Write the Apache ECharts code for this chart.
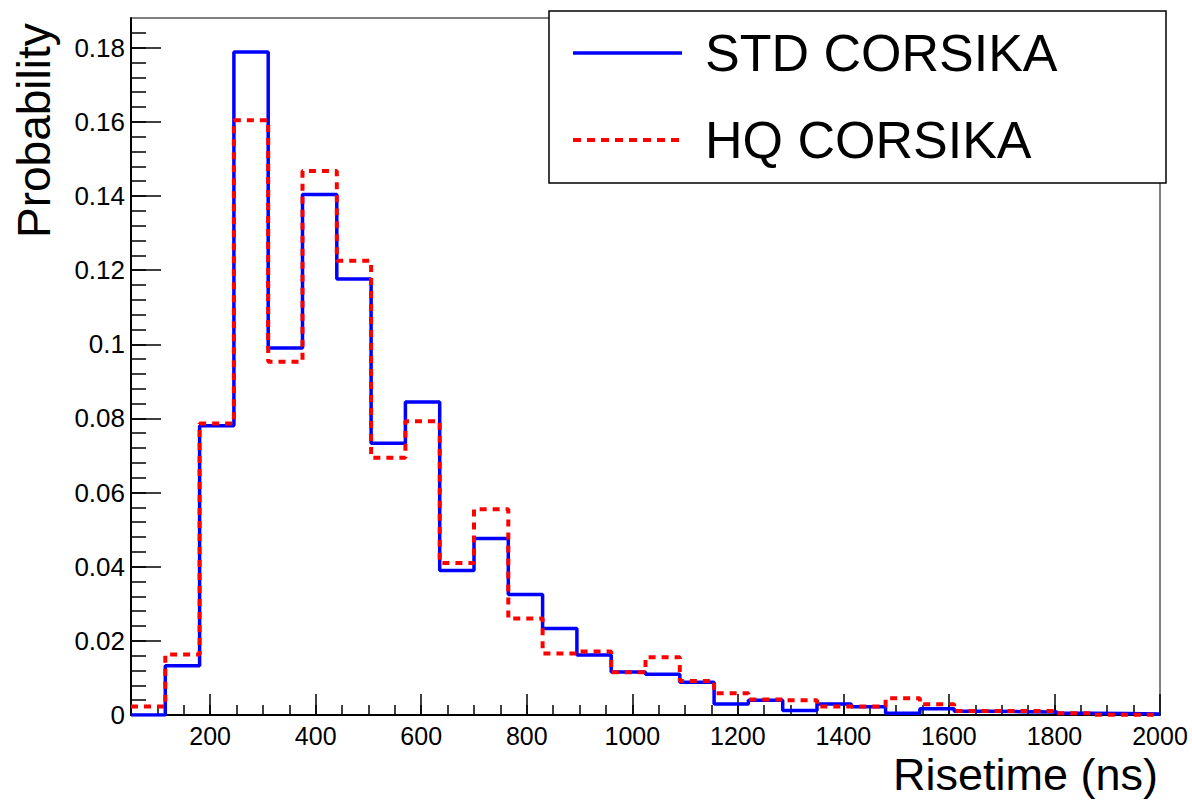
<!DOCTYPE html>
<html>
<head>
<meta charset="utf-8">
<title>Risetime distribution</title>
<script src="https://cdn.jsdelivr.net/npm/echarts@6/dist/echarts.min.js"></script>
<style>
  html, body { margin: 0; padding: 0; background: #fff; }
  #chart { width: 1192px; height: 800px; }
</style>
</head>
<body>
<div id="chart"></div>
<script>
// Bin edges of the risetime histogram (ns), 30 bins of 65 ns
const binEdges = [50, 115, 180, 245, 310, 375, 440, 505, 570, 635, 700, 765, 830, 895, 960,
  1025, 1090, 1155, 1220, 1285, 1350, 1415, 1480, 1545, 1610, 1675, 1740, 1805, 1870, 1935, 2000];

// Normalised bin contents
const stdCorsika = [0, 0.0133, 0.078, 0.1788, 0.099, 0.1404, 0.1176, 0.0733, 0.0844, 0.039,
  0.0476, 0.0325, 0.0233, 0.0162, 0.0116, 0.011, 0.0088, 0.003, 0.004, 0.0012,
  0.003, 0.0022, 0.0005, 0.0017, 0.001, 0.0009, 0.0008, 0.0005, 0.0004, 0.0003];
const hqCorsika = [0.0023, 0.0163, 0.0786, 0.1604, 0.0953, 0.1467, 0.1225, 0.0694, 0.0792, 0.041,
  0.0555, 0.026, 0.0166, 0.0171, 0.0115, 0.0156, 0.0092, 0.0059, 0.0042, 0.004,
  0.0023, 0.0023, 0.0045, 0.0029, 0.0011, 0.0011, 0.0011, 0.0005, 0.0001, 0.0001];

// Axis ticks
const xMajorTicks = [200, 400, 600, 800, 1000, 1200, 1400, 1600, 1800, 2000];
const xMinorStep = 50;
const yMinorStep = 0.004;

const X_MIN = 50, X_MAX = 2000, Y_MAX = 0.188;

function stepData(values) {
  // one point per bin edge; the last edge repeats the last bin content
  return binEdges.map((e, i) => [e, values[Math.min(i, values.length - 1)]]);
}

const xMinorTicks = [];
for (let v = 100; v < X_MAX; v += xMinorStep) xMinorTicks.push(v);
const yMinorTicks = [];
for (let k = 1; k * yMinorStep < Y_MAX; k++) yMinorTicks.push(+(k * yMinorStep).toFixed(4));

const FONT = '"Liberation Sans", Arial, Helvetica, sans-serif';
const BLUE = '#0000ff', RED = '#ff0000';

const chart = echarts.init(document.getElementById('chart'), null, { renderer: 'svg' });

chart.setOption({
  animation: false,
  backgroundColor: '#fff',
  grid: {
    left: 131, right: 32, top: 18, bottom: 85,
    show: true, borderColor: '#000', borderWidth: 1, backgroundColor: 'transparent'
  },
  xAxis: [{
    type: 'value', min: X_MIN, max: X_MAX,
    axisLine: { show: true, onZero: false, lineStyle: { color: '#000', width: 2 } },
    axisTick: { show: true, inside: true, length: 21, customValues: xMajorTicks, lineStyle: { color: '#000', width: 1.5 } },
    axisLabel: {
      show: true, customValues: xMajorTicks, margin: 8, color: '#000', fontSize: 25, fontFamily: FONT,
      lineHeight: 25, formatter: v => String(v)
    },
    splitLine: { show: false }
  }, {
    type: 'value', min: X_MIN, max: X_MAX, position: 'bottom',
    axisLine: { show: false },
    axisTick: { show: true, inside: true, length: 10, customValues: xMinorTicks, lineStyle: { color: '#000', width: 1.5 } },
    axisLabel: { show: false },
    splitLine: { show: false }
  }],
  yAxis: [{
    type: 'value', min: 0, max: Y_MAX, interval: 0.02,
    axisLine: { show: true, onZero: false, lineStyle: { color: '#000', width: 2 } },
    axisTick: { show: true, inside: true, length: 30, lineStyle: { color: '#000', width: 1.5 } },
    axisLabel: { show: true, margin: 6, color: '#000', fontSize: 26, fontFamily: FONT, showMaxLabel: false },
    splitLine: { show: false }
  }, {
    type: 'value', min: 0, max: Y_MAX, position: 'left',
    axisLine: { show: false },
    axisTick: { show: true, inside: true, length: 15, customValues: yMinorTicks, lineStyle: { color: '#000', width: 1.5 } },
    axisLabel: { show: false },
    splitLine: { show: false }
  }],
  legend: {
    orient: 'vertical',
    left: 549, top: 11,
    padding: [12, 20, 13, 22],
    itemWidth: 109, itemHeight: 20, itemGap: 27,
    z: 5,
    itemStyle: { opacity: 0 },
    textStyle: { fontSize: 52, lineHeight: 60, color: '#000', fontFamily: FONT, padding: [0, 0, 0, 18] },
    data: [
      { name: 'STD CORSIKA', lineStyle: { color: BLUE, width: 3.5, type: 'solid' } },
      { name: 'HQ CORSIKA', lineStyle: { color: RED, width: 4, type: [8, 6] } }
    ]
  },
  graphic: [{
    type: 'rect', z: 3,
    shape: { x: 549, y: 11, width: 617, height: 172 },
    style: { fill: '#fff', stroke: '#000', lineWidth: 1.5 }
  }, {
    type: 'text', x: 34, y: 238, rotation: Math.PI / 2,
    style: { text: 'Probability', fill: '#000', font: '46px ' + FONT, textAlign: 'left', textVerticalAlign: 'middle' }
  }, {
    type: 'text', x: 1158, y: 797,
    style: { text: 'Risetime (ns)', fill: '#000', font: '45px ' + FONT, lineHeight: 45, textAlign: 'right', textVerticalAlign: 'bottom' }
  }],
  series: [{
    name: 'STD CORSIKA', type: 'line', step: 'end', symbol: 'none',
    xAxisIndex: 0, yAxisIndex: 0, z: 2,
    lineStyle: { color: BLUE, width: 3.5 },
    itemStyle: { color: BLUE },
    data: stepData(stdCorsika)
  }, {
    name: 'HQ CORSIKA', type: 'line', step: 'end', symbol: 'none',
    xAxisIndex: 0, yAxisIndex: 0, z: 2,
    lineStyle: { color: RED, width: 4, type: [7, 6] },
    itemStyle: { color: RED },
    data: stepData(hqCorsika)
  }]
});
</script>
</body>
</html>
